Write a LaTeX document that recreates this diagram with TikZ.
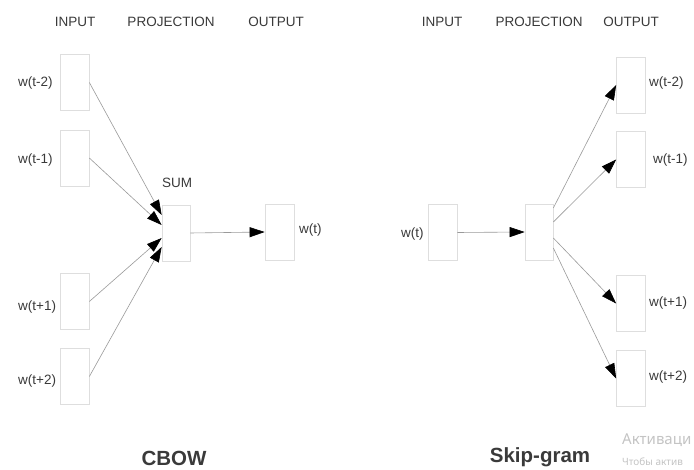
\documentclass[tikz,border=0pt]{standalone}
\usepackage{fontspec}
\setmainfont{Liberation Sans}
\newfontfamily\wmfont{Noto Sans}
\usetikzlibrary{arrows.meta}
\definecolor{txtc}{HTML}{3A3A3A}
\definecolor{boxc}{HTML}{DEDEDE}
\definecolor{linec}{HTML}{9A9A9A}
\definecolor{wmc}{HTML}{C4C4C4}
\tikzset{
  wbox/.style={draw=boxc, line width=0.7pt, rectangle, inner sep=0pt, minimum width=29pt, minimum height=56pt},
  hdr/.style={text=txtc, font=\fontsize{13.5}{16}\selectfont, inner sep=0pt},
  lbl/.style={text=txtc, font=\fontsize{13.5}{16}\selectfont, inner sep=0pt},
  ttl/.style={text=txtc, font=\fontsize{20.5}{24}\selectfont\bfseries, inner sep=0pt, anchor=base},
  wm/.style={text=wmc, inner sep=0pt, anchor=base west},
  conn/.style={draw=linec, line width=0.6pt, -{Triangle[length=15pt,width=10pt,color=black,fill=black]}}
}
\begin{document}
\begin{tikzpicture}[x=1pt,y=-1pt]
\useasboundingbox (0,0) rectangle (694,470);
\fill[white] (0,0) rectangle (694,470);
% ---------- CBOW ----------
\node[hdr] (h1) at (75,22) {INPUT};
\node[hdr] (h2) at (171,22) {PROJECTION};
\node[hdr] (h3) at (276,22) {OUTPUT};
\node[wbox] (ci1) at (74.5,82.5) {};
\node[wbox] (ci2) at (74.5,158) {};
\node[wbox] (ci3) at (74.5,301.5) {};
\node[wbox] (ci4) at (74.5,376.5) {};
\node[wbox, minimum width=28pt] (cp) at (176,233) {};
\node[wbox] (co) at (279.5,232) {};
\node[lbl, anchor=west] (cl1) at (18,83) {w(t-2)};
\node[lbl, anchor=west] (cl2) at (18,160) {w(t-1)};
\node[lbl, anchor=west] (cl3) at (18,307) {w(t+1)};
\node[lbl, anchor=west] (cl4) at (18,381) {w(t+2)};
\node[lbl] (sum) at (177,183) {SUM};
\node[lbl, anchor=west] (clo) at (299,230) {w(t)};
\draw[conn] (ci1.east) -- ([yshift=18pt]cp.west);
\draw[conn] (ci2.east) -- ([yshift=8pt]cp.west);
\draw[conn] (ci3.east) -- ([yshift=-5pt]cp.west);
\draw[conn] (ci4.east) -- ([yshift=-14pt]cp.west);
\draw[conn] (cp.east) -- (co.west);
\node[ttl] (cbow) at (174,465) {CBOW};
% ---------- Skip-gram ----------
\node[hdr] (s1) at (442,22) {INPUT};
\node[hdr] (s2) at (539,22) {PROJECTION};
\node[hdr] (s3) at (631,22) {OUTPUT};
\node[wbox] (si) at (442.5,232.5) {};
\node[wbox, minimum width=28pt] (sp) at (539,232) {};
\node[wbox] (so1) at (631,85) {};
\node[wbox] (so2) at (631,159.5) {};
\node[wbox] (so3) at (631,303.5) {};
\node[wbox] (so4) at (631,378.5) {};
\node[lbl, anchor=west] (sli) at (401,234) {w(t)};
\node[lbl, anchor=west] (sl1) at (649,83) {w(t-2)};
\node[lbl, anchor=west] (sl2) at (653,160) {w(t-1)};
\node[lbl, anchor=west] (sl3) at (649,303) {w(t+1)};
\node[lbl, anchor=west] (sl4) at (649,377) {w(t+2)};
\draw[conn] (si.east) -- (sp.west);
\draw[conn] ([yshift=24pt]sp.east) -- (so1.west);
\draw[conn] ([yshift=10pt]sp.east) -- (so2.west);
\draw[conn] ([yshift=-6pt]sp.east) -- (so3.west);
\draw[conn] ([yshift=-16pt]sp.east) -- (so4.west);
\node[ttl] (skip) at (540,463) {Skip-gram};
% ---------- watermark ----------
\node[wm, font=\wmfont\fontsize{15}{18}\selectfont] (wm1) at (622,445) {Активаци};
\node[wm, font=\wmfont\fontsize{10}{12}\selectfont] (wm2) at (622,465) {Чтобы актив};
\end{tikzpicture}
\end{document}
